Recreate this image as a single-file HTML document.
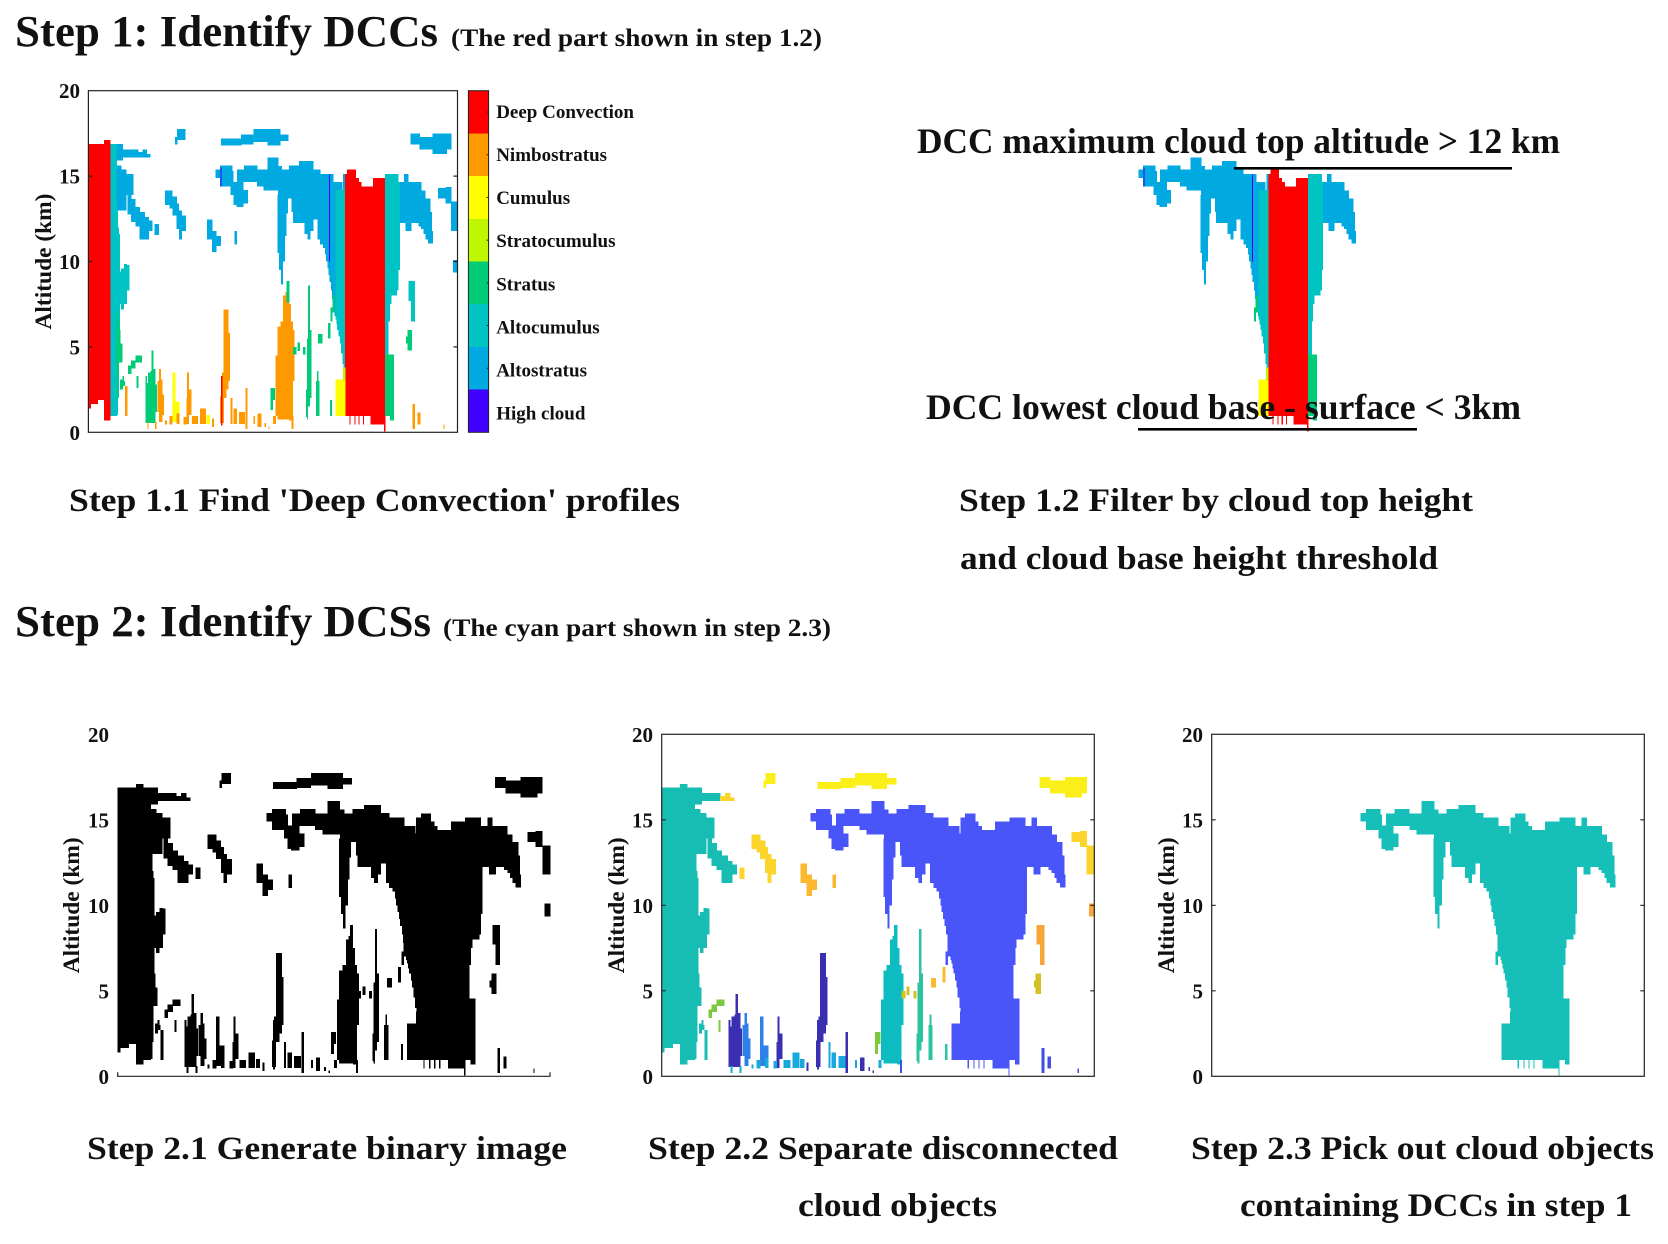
<!DOCTYPE html>
<html lang="en">
<head>
<meta charset="utf-8">
<title>Identifying DCCs and DCSs</title>
<style>
html,body{margin:0;padding:0;background:#fff;width:1668px;height:1244px;overflow:hidden}
svg{display:block}
text{font-family:"Liberation Serif",serif;font-weight:bold;fill:#111}
.title{font-size:44px}
.sub{font-size:25px}
.cap{font-size:33px}
.dcc{font-size:36px}
</style>
</head>
<body>
<svg id="fig" xmlns="http://www.w3.org/2000/svg" width="1668" height="1244" viewBox="0 0 1668 1244">
<rect width="1668" height="1244" fill="#fff"/>
<g id="panels"></g>
<text class="title" x="15" y="46" textLength="423" lengthAdjust="spacingAndGlyphs">Step 1: Identify DCCs</text>
<text class="sub" x="451" y="46" textLength="371" lengthAdjust="spacingAndGlyphs">(The red part shown in step 1.2)</text>
<text class="dcc" x="917" y="153" textLength="643" lengthAdjust="spacingAndGlyphs">DCC maximum cloud top altitude &gt; 12 km</text>
<rect x="1234" y="167" width="278" height="2.6" fill="#000"/>
<text class="dcc" x="926" y="419" textLength="595" lengthAdjust="spacingAndGlyphs">DCC lowest cloud base - surface &lt; 3km</text>
<rect x="1138" y="428" width="279" height="2.6" fill="#000"/>
<text class="cap" x="69" y="511" textLength="611" lengthAdjust="spacingAndGlyphs">Step 1.1 Find 'Deep Convection' profiles</text>
<text class="cap" x="959" y="511" textLength="514" lengthAdjust="spacingAndGlyphs">Step 1.2 Filter by cloud top height</text>
<text class="cap" x="960" y="569" textLength="478" lengthAdjust="spacingAndGlyphs">and cloud base height threshold</text>
<text class="title" x="15" y="636" textLength="416" lengthAdjust="spacingAndGlyphs">Step 2: Identify DCSs</text>
<text class="sub" x="443" y="636" textLength="388" lengthAdjust="spacingAndGlyphs">(The cyan part shown in step 2.3)</text>
<text class="cap" x="87" y="1159" textLength="480" lengthAdjust="spacingAndGlyphs">Step 2.1 Generate binary image</text>
<text class="cap" x="648" y="1159" textLength="470" lengthAdjust="spacingAndGlyphs">Step 2.2 Separate disconnected</text>
<text class="cap" x="798" y="1216" textLength="199" lengthAdjust="spacingAndGlyphs">cloud objects</text>
<text class="cap" x="1191" y="1159" textLength="463" lengthAdjust="spacingAndGlyphs">Step 2.3 Pick out cloud objects</text>
<text class="cap" x="1240" y="1216" textLength="392" lengthAdjust="spacingAndGlyphs">containing DCCs in step 1</text>
</svg>
<script>
/* ---------- data ---------- */
const altitudeTicks = [0, 5, 10, 15, 20];
const altitudeMax = 20;
const profileCount = 1298;
const cloudClasses = ['Deep Convection', 'Nimbostratus', 'Cumulus', 'Stratocumulus', 'Stratus', 'Altocumulus', 'Altostratus', 'High cloud'];
const DC = 0, NS = 1, CU = 2, SC = 3, ST = 4, AC = 5, AS = 6, HC = 7;
const mainObject = 1;
/* each run: [cloud class, connected object id, [[profile, base km, top km], ... , [end profile]]] */
const cloudRuns = [
  [DC, 0, [[0,1.4,16.88],[8,1.65,16.88],[33,1.9,16.88],[55,0.7,17.1],[77]]],
  [AC, 0, [[77,0.95,16.88],[99]]],
  [AC, 0, [[99,1,13],[103,2,12],[106,6,11.6],[110]]],
  [ST, 0, [[99,2,7],[103,3.4,6.6],[106,4.1,6],[112,4.1,5.2],[118]]],
  [AC, 0, [[104,7.5,9.4],[115,7.2,9.6],[125,7.5,9.85],[135,8.3,9.8],[143]]],
  [AS, 0, [[99,15.9,16.88],[120,16.1,16.57],[175]]],
  [AS, 0, [[99,13,15.63],[115,13,15.4],[133,13.9,15.13],[158]]],
  [AS, 0, [[138,12.75,13.9],[150,12.3,13.65],[165,12.05,13.2],[180,11.3,12.9],[198,11.3,12.6],[212,11.8,12.4],[225]]],
  [ST, 0, [[112,2.5,3.1],[120,2.7,3.3],[125,2.7,3],[128]]],
  [NS, 0, [[128,0.95,2.7],[137]]],
  [AS, 3, [[175,16.1,16.4],[190,16.1,16.57],[205,16.1,16.3],[218]]],
  [AS, 2, [[305,16.85,17.3],[312,17.1,17.75],[340]]],
  [AS, 2, [[467,16.8,17.2],[537,16.85,17.45],[580,17,17.75],[630,16.8,17.75],[675,17.05,17.45],[703]]],
  [AS, 2, [[1133,16.85,17.5],[1165,16.55,17.3],[1210,16.3,17.5],[1260,16.55,17.5],[1275]]],
  [AS, 3, [[270,13.3,14.15],[285,13.1,14.15],[295,12.7,13.8],[310,11.9,13.4],[318,11.3,13],[328,11.8,12.7],[342]]],
  [AS, 3, [[233,11.55,12.2],[248]]],
  [AS, 4, [[417,11.3,12.45],[435,10.55,11.8],[450,10.9,11.5],[465]]],
  [AS, 4, [[513,11,11.8],[522]]],
  [AS, 3, [[1230,13.7,14.3],[1255,13.4,14.35],[1275,11.8,13.5],[1298]]],
  [AS, 12, [[1282,9.35,10.1],[1298]]],
  [AC, 12, [[1125,7.7,8.85],[1135,6.5,8.85],[1147]]],
  [ST, 11, [[1117,5.2,5.6],[1122,4.8,6],[1137]]],
  /* main deep convective system */
  [AS, 1, [[447,14.9,15.4],[463,14.4,15.63],[505,14.4,15.3],[510]]],
  [AS, 1, [[500,13.9,14.66],[510,13.3,14.66],[520,13.2,14.66],[545,13.4,14.2],[560]]],
  [AS, 1, [[523,14.65,15.38],[548,14.65,15.63],[593,14.4,15.38],[615,14.15,15.38],[630,14.15,16.1],[667,13.7,15.6],[680,13.7,15.38],[705,13.7,15.63],[715,12.9,15.63],[720,12.25,15.63],[740,12.25,15.87],[760,11.6,15.87],[770,11.3,15.87],[780,11.8,15.87],[790,12.45,15.4],[805]]],
  [AS, 1, [[665,10.5,13.9],[670,9.5,13.9],[677,8.65,13.9],[683,10,13.9],[690,11.5,13.9],[695,12.8,13.9],[700]]],
  [AS, 1, [[805,11.3,15.4],[815,11,15.13],[825,10.8,15.13],[832,10.4,15.13],[836,10,15.13],[840,9.6,15.13],[844,9.2,15.13],[848,8.8,15.13],[853,8.3,15.13],[857,7.8,15.13],[860,7.4,14.65],[866,6.8,14.65],[869,14.2,14.65],[890,14,14.65],[893,14,14.2],[896,14,15.13],[903]]],
  [AC, 1, [[869,6.6,14.2],[872,6.3,14.2],[875,6,14.2],[880,5.6,14.2],[884,5.2,14.2],[888,4.6,14.2],[893,4,14.2],[897,3.6,14.2],[900,3.2,14.2],[903]]],
  [DC, 1, [[903,0.95,15.13],[910,0.95,15.38],[940,0.95,14.9],[950,0.95,14.65],[960,0.95,14.4],[992,0.47,14.4],[1000,0.47,14.9],[1040,0.05,14.9],[1043]]],
  [DC, 1, [[918,0.45,1],[921]]],
  [DC, 1, [[935,0.45,1],[938]]],
  [DC, 1, [[950,0.45,1],[953]]],
  [DC, 1, [[965,0.45,1],[968]]],
  [AC, 1, [[1043,4.55,15.13],[1055,6.5,15.13],[1060,7.5,15.13],[1064,8,15.13],[1085,8.3,15.13],[1090,9.5,14.65],[1095]]],
  [AS, 1, [[1095,12.25,14.65],[1110,12.25,15.13],[1115,11.8,15.13],[1125,11.8,14.65],[1135,12.25,14.65],[1160,12.05,14.65],[1170,11.9,14.15],[1178,11.6,14.15],[1185,11.3,13.7],[1195,11.05,13.7],[1202,11.05,12.9],[1207,11.05,11.8],[1210]]],
  [ST, 1, [[1043,0.95,4.55],[1060,0.7,4.55],[1073]]],
  [CU, 1, [[869,0.95,3.1],[903]]],
  [SC, 1, [[895,3,3.8],[903]]],
  [ST, 1, [[852,6.5,7.3],[858,7,8],[865]]],
  [HC, 1, [[846,10,15.1],[849]]],
  [HC, 1, [[464,14.4,15.5],[467]]],
  /* low cloud towers */
  [ST, 5, [[200,0.55,3.3],[205,0.55,2.9],[210,0.55,3.5],[218,0.55,3.6],[222,0.55,4.8],[228,0.55,3.7],[235,1.2,2.8],[240]]],
  [NS, 6, [[243,1.2,3],[248,0.6,3.7],[255,0.6,3.1],[260,1,2.2],[265]]],
  [CU, 6, [[295,0.6,3.5],[305,0.6,1.8],[320]]],
  [NS, 5, [[345,0.5,2],[347,0.5,3.5],[353,1,2.5],[362]]],
  [NS, 5, [[463,0.55,2.1],[470,0.55,3.5],[475,2,7.2],[485,2.5,7.2],[492,3,5.8],[497]]],
  [DC, 5, [[466,0.4,3.3],[471]]],
  [NS, 7, [[658,0.95,4.5],[665,0.75,6.2],[675,0.75,6.5],[685,0.75,8],[693,0.75,8.2],[697,0.75,7.6],[706,0.7,7.5],[712,0.7,6.5],[718,3,6],[724]]],
  [ST, 7, [[697,7.6,8.85],[706]]],
  [ST, 8, [[765,0.9,2.5],[768,0.75,5.5],[772,1.5,8.6],[778,2,6],[783]]],
  [ST, 8, [[800,0.95,3],[804,0.95,3.6],[808,0.95,3],[812]]],
  [ST, 8, [[850,0.95,1.9],[856]]],
  [ST, 10, [[640,1.3,2.6],[648,1.9,2.6],[655]]],
  [ST, 11, [[720,4.55,5],[730]]],
  [ST, 11, [[735,4.75,5.25],[743]]],
  [ST, 11, [[755,4.55,5],[763]]],
  [ST, 4, [[808,5.2,5.75],[822]]],
  [ST, 4, [[842,5.5,6.4],[850]]],
  [ST, 10, [[140,3.4,3.9],[150,3.75,4.2],[165,4.1,4.5],[187]]],
  [ST, 10, [[170,2.6,3.3],[175]]],
  /* surface specks */
  [NS, 9, [[207,0.2,0.6],[211]]],
  [NS, 9, [[234,0.2,0.6],[238]]],
  [NS, 9, [[270,0.45,0.7],[275]]],
  [NS, 9, [[285,0.45,0.95],[295]]],
  [NS, 9, [[310,0.5,1.1],[320]]],
  [NS, 9, [[335,0.45,0.9],[345]]],
  [NS, 9, [[365,0.5,0.95],[385]]],
  [NS, 9, [[392,0.5,1.4],[412]]],
  [CU, 9, [[415,0.5,1],[427]]],
  [NS, 5, [[435,0.3,0.8],[440]]],
  [NS, 9, [[500,0.5,2],[505]]],
  [NS, 9, [[510,0.5,1.4],[522]]],
  [NS, 9, [[530,0.5,1.2],[550]]],
  [NS, 5, [[552,0.2,2.6],[558]]],
  [NS, 9, [[580,0.5,0.95],[585]]],
  [NS, 5, [[595,0.3,1.1],[607]]],
  [NS, 5, [[620,0.3,0.55],[624]]],
  [NS, 5, [[633,0.2,0.35],[636]]],
  [NS, 9, [[650,0.5,0.95],[658]]],
  [NS, 13, [[715,0.2,0.95],[720]]],
  [NS, 13, [[1140,0.2,1.65],[1147]]],
  [NS, 13, [[1158,0.45,1.15],[1167]]],
  [NS, 13, [[1248,0.2,0.45],[1251]]]
];

/* ---------- styling (separate from data) ---------- */
const classPalette = ['#ff0000', '#ff9900', '#ffff00', '#bff700', '#00cc77', '#00c4c4', '#00aae0', '#4000ff'];
const objectPalette = ['#17bdb3', '#4a55f9', '#fbef1a', '#fbd52c', '#fcb92f', '#3a2fb0', '#2f7fea', '#0dbcc0', '#2cc4a0', '#18a8dc', '#7dc93e', '#d3c125', '#f8a53a', '#3f4fe0'];
const panelConfigs = [
  {id: 'step-1-1', x0: 88.4, x1: 457.5, top: 90.7, bottom: 432.3, frame: 'box', labelX: 80, titleX: 51, colorOf: run => classPalette[run[0]], keep: () => true},
  {id: 'step-1-2', x0: 1011.5, x1: 1380.6, top: 90.7, bottom: 432.3, frame: 'none', colorOf: run => classPalette[run[0]], keep: run => run[1] === mainObject},
  {id: 'step-2-1', x0: 117.7, x1: 550, top: 734.3, bottom: 1076.3, frame: 'axis', labelX: 109, titleX: 79, colorOf: () => '#000', keep: () => true},
  {id: 'step-2-2', x0: 661.7, x1: 1094.3, top: 734.3, bottom: 1076.3, frame: 'box', labelX: 653, titleX: 624, colorOf: run => objectPalette[run[1]], keep: () => true},
  {id: 'step-2-3', x0: 1211.7, x1: 1644.3, top: 734.3, bottom: 1076.3, frame: 'box', labelX: 1203, titleX: 1174, colorOf: () => '#17bfb9', keep: run => run[1] === mainObject}
];

/* ---------- drawing ---------- */
const SVGNS = 'http://www.w3.org/2000/svg';
const root = document.getElementById('panels');
function make(tag, parent, attrs) {
  const el = document.createElementNS(SVGNS, tag);
  for (const key in attrs) el.setAttribute(key, attrs[key]);
  parent.appendChild(el);
  return el;
}
function xAxis(panel, profile) {
  return panel.x0 + profile / profileCount * (panel.x1 - panel.x0);
}
function yAxis(panel, km) {
  return panel.bottom - km / altitudeMax * (panel.bottom - panel.top);
}
function drawPanel(panel) {
  const g = make('g', root, {});
  
  
  cloudRuns.filter(panel.keep).forEach(run => {
    const steps = run[2];
    for (let i = 0; i < steps.length - 1; i++) {
      const xa = xAxis(panel, steps[i][0]);
      const xb = xAxis(panel, steps[i + 1][0]);
      const yt = yAxis(panel, steps[i][2]);
      const yb = yAxis(panel, steps[i][1]);
      const r = make('rect', g, {x: xa, y: yt, width: xb - xa + 0.3, height: yb - yt, fill: panel.colorOf(run), 'shape-rendering': 'crispEdges'});
      
      
    }
  });
  if (panel.frame === 'box') {
    const f = make('rect', g, {x: panel.x0, y: panel.top, width: panel.x1 - panel.x0, height: panel.bottom - panel.top, fill: 'none', stroke: '#222', 'stroke-width': 1.2});
    
    
  }
  if (panel.frame === 'axis') {
    const a = make('path', g, {d: 'M' + panel.x0 + ' ' + (panel.bottom - 4) + 'V' + panel.bottom + 'H' + panel.x1 + 'V' + (panel.bottom - 4), fill: 'none', stroke: '#222', 'stroke-width': 1.2});
    
    
  }
  if (panel.frame !== 'none') {
    altitudeTicks.forEach(tick => {
      const y = yAxis(panel, tick);
      const label = make('text', g, {x: panel.labelX, y: y + 7.5, 'text-anchor': 'end', 'font-size': 21});
      label.textContent = tick;
      
      
      if (panel.frame === 'box' && tick > 0 && tick < altitudeMax) {
        const mark = make('path', g, {d: 'M' + panel.x0 + ' ' + y + 'h4M' + panel.x1 + ' ' + y + 'h-4', stroke: '#222', 'stroke-width': 1.2, fill: 'none'});
        
        
      }
    });
    const cy = (panel.top + panel.bottom) / 2;
    const title = make('text', g, {x: panel.titleX, y: cy, 'text-anchor': 'middle', 'font-size': 23, transform: 'rotate(-90 ' + panel.titleX + ' ' + cy + ')', textLength: 136, lengthAdjust: 'spacingAndGlyphs'});
    title.textContent = 'Altitude (km)';
    
    
  }
}
panelConfigs.forEach(drawPanel);

function drawLegend(panel) {
  const g = make('g', root, {});
  
  
  const barX = 468.4, barW = 20.2;
  const h = (panel.bottom - panel.top) / cloudClasses.length;
  cloudClasses.forEach((name, i) => {
    const y = panel.top + i * h;
    const seg = make('rect', g, {x: barX, y: y, width: barW, height: h + 0.3, fill: classPalette[i], 'shape-rendering': 'crispEdges'});
    
    
    const label = make('text', g, {x: 496.2, y: y + h / 2 + 6 + i * 0.35, 'font-size': 19});
    label.textContent = name;
    
    
    const mark = make('path', g, {d: 'M' + (barX + barW) + ' ' + (y + h / 2) + 'h-2', stroke: '#222', 'stroke-width': 1, fill: 'none'});
    
    
  });
  const box = make('rect', g, {x: barX, y: panel.top, width: barW, height: panel.bottom - panel.top, fill: 'none', stroke: '#222', 'stroke-width': 1});
  
  
}
drawLegend(panelConfigs[0]);
</script>
</body>
</html>
